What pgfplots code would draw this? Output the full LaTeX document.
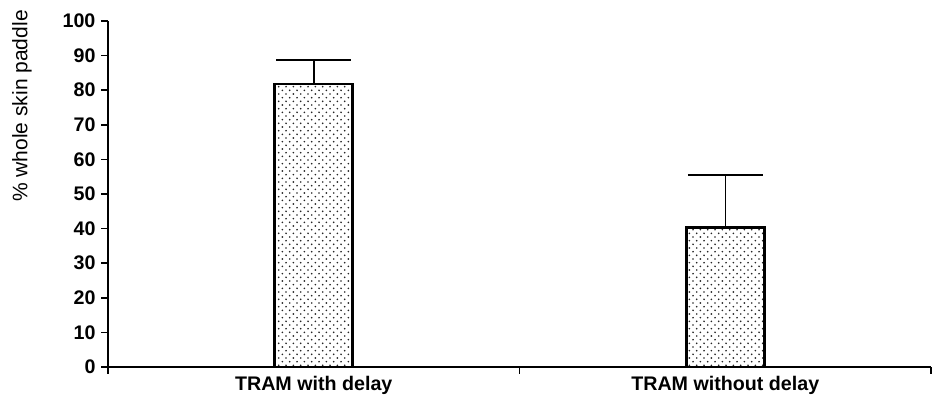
\documentclass[border=0pt]{standalone}
\usepackage{pgfplots}
\pgfplotsset{compat=1.18}
\usepackage{fontspec}
\setmainfont{Liberation Sans}
\usetikzlibrary{patterns}
\pgfdeclarepatternformonly{mydots}{\pgfqpoint{-1pt}{-1pt}}{\pgfqpoint{5pt}{5pt}}{\pgfqpoint{4.4pt}{4.4pt}}{%
  \pgfpathcircle{\pgfqpoint{0pt}{0pt}}{0.55pt}
  \pgfpathcircle{\pgfqpoint{2.2pt}{2.2pt}}{0.55pt}
  \pgfusepath{fill}}
\begin{document}
\begin{tikzpicture}
\begin{axis}[
  name=a,
  scale only axis,
  width=493.8pt, height=207.6pt,
  xmin=0, xmax=2, ymin=0, ymax=100,
  axis x line*=bottom, axis y line*=left,
  axis line style={-, line width=1.2pt},
  ytick={0,10,...,100},
  xtick={0,1,2}, xticklabels={},
  extra x ticks={0.5,1.5},
  extra x tick labels={TRAM with delay, TRAM without delay},
  extra x tick style={major tick length=0pt, xticklabel style={yshift=-2pt}},
  tick align=outside,
  major tick length=4pt,
  tick style={line width=1pt, black},
  /pgf/number format/assume math mode=true,
  ticklabel style={font=\fontsize{11.8}{12}\selectfont\bfseries},
  ylabel={\% whole skin paddle},
  ylabel style={at={(axis description cs:-0.1045,1.032)}, anchor=east, inner sep=0pt, rotate=0, font=\fontsize{12.6}{13}\selectfont},
  clip=false,
]
\addplot[ybar, bar width=46.8pt, draw=black, line width=1.7pt,
  pattern=mydots, pattern color=black!85,
  error bars/.cd, y dir=plus, y explicit,
  error bar style={line width=0.9pt, black},
  error mark options={rotate=90, mark size=22.5pt, line width=0.9pt, black}]
  coordinates {(0.5,81.8) +- (0,6.9) (1.5,40.2) +- (0,15.3)};
\end{axis}
\pgfresetboundingbox
\path ([xshift=-64.8pt,yshift=-21pt]a.south west) rectangle ([xshift=4.8pt,yshift=12.6pt]a.north east);
\end{tikzpicture}
\end{document}
